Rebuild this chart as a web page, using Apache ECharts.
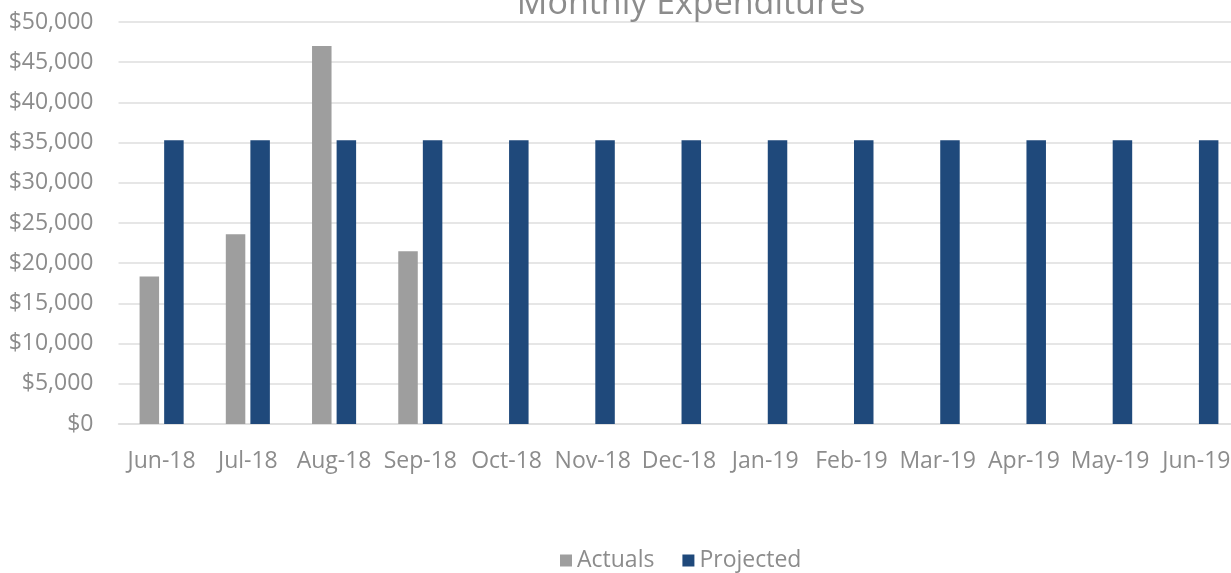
<!DOCTYPE html>
<html>
<head>
<meta charset="utf-8">
<title>Monthly Expenditures</title>
<script src="https://cdn.jsdelivr.net/npm/echarts@6/dist/echarts.min.js"></script>
<style>
  html, body { margin: 0; padding: 0; background: #ffffff; }
  #chart { width: 1231px; height: 573px; }
</style>
</head>
<body>
<div id="chart"></div>
<script>
// Months shown along the bottom axis
const months = ['Jun-18', 'Jul-18', 'Aug-18', 'Sep-18', 'Oct-18', 'Nov-18', 'Dec-18',
                'Jan-19', 'Feb-19', 'Mar-19', 'Apr-19', 'May-19', 'Jun-19'];

// Spending recorded so far (later months not yet reported)
const actuals = [18350, 23600, 47000, 21500, null, null, null, null, null, null, null, null, null];

// Budgeted monthly spending
const projected = [35300, 35300, 35300, 35300, 35300, 35300, 35300,
                   35300, 35300, 35300, 35300, 35300, 35300];

const textGrey = '#8c8c8c';
const gridGrey = '#dedede';
const fontFamily = '"Open Sans", "Noto Sans", sans-serif';

const chart = echarts.init(document.getElementById('chart'), null, { renderer: 'canvas' });

chart.setOption({
  animation: false,
  backgroundColor: '#ffffff',
  title: {
    text: 'Monthly Expenditures',
    left: 686,
    top: -18,
    textAlign: 'center',
    textStyle: { color: textGrey, fontSize: 34, fontWeight: 'normal', fontFamily: fontFamily }
  },
  legend: {
    data: ['Actuals', 'Projected'],
    left: 555,
    top: 544,
    icon: 'rect',
    itemWidth: 12,
    itemHeight: 12,
    itemGap: 28,
    textStyle: { color: textGrey, fontSize: 23, fontFamily: fontFamily }
  },
  grid: {
    left: 118.5, top: 22, width: 1121, height: 402,
    containLabel: false,
    outerBoundsMode: 'none'
  },
  xAxis: {
    type: 'category',
    data: months,
    axisLine: { lineStyle: { color: gridGrey, width: 1.5 } },
    axisTick: { show: false },
    axisLabel: { color: textGrey, fontSize: 23, fontFamily: fontFamily, margin: 26, interval: 0 }
  },
  yAxis: {
    type: 'value',
    min: 0,
    max: 50000,
    interval: 5000,
    axisLine: { show: false },
    axisTick: { show: false },
    splitLine: { lineStyle: { color: gridGrey, width: 1.5 } },
    axisLabel: {
      color: textGrey,
      fontSize: 23,
      fontFamily: fontFamily,
      margin: 25,
      formatter: function (v) { return '$' + v.toLocaleString('en-US'); }
    }
  },
  series: [
    {
      name: 'Actuals',
      type: 'bar',
      data: actuals,
      barWidth: 19.5,
      barGap: '26%',
      itemStyle: { color: '#9e9e9e' }
    },
    {
      name: 'Projected',
      type: 'bar',
      data: projected,
      barWidth: 19.5,
      barGap: '26%',
      itemStyle: { color: '#1f497b' }
    }
  ]
});
</script>
</body>
</html>
